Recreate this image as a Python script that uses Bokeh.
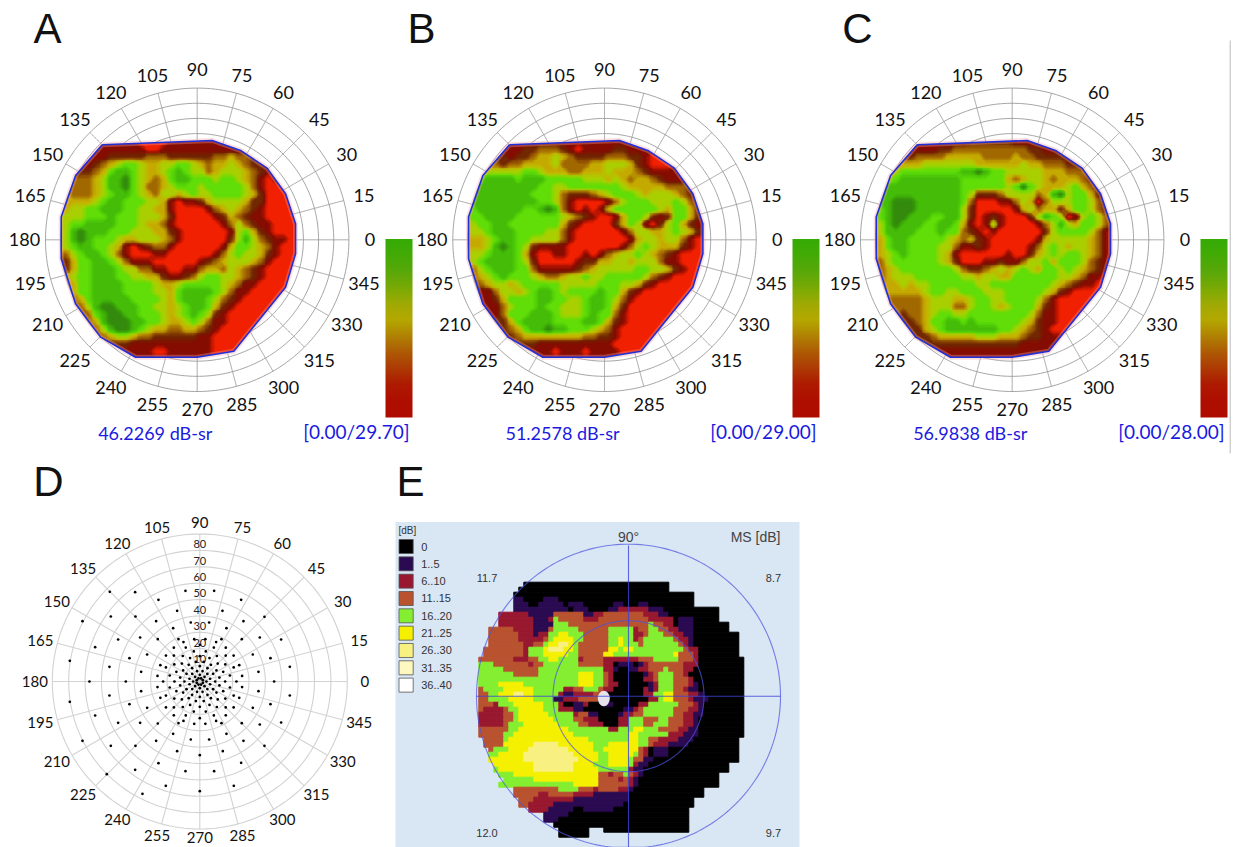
import numpy as np
from bokeh.plotting import figure
from bokeh.models import Range1d, LinearColorMapper
from bokeh.core.properties import value
from bokeh.embed import file_html
from bokeh.resources import INLINE

# ---- data ----
angle_ticks = list(range(0, 360, 15))
rings_abc = list(range(10, 101, 10))
rings_d = list(range(10, 91, 10))
ring_labels_d = list(range(10, 81, 10))

outline_ang = [135, 81.4, 64.1, 45.7, 27.5, 9.2, 351.9, 331.8, 288.2, 270, 242.3, 225.2, 207.7, 187.9, 170.5, 152.1]
outline_ecc = [88.6, 66.2, 65.5, 66, 65.7, 65.7, 65.5, 66.1, 77.3, 77.4, 87.4, 90.4, 90.6, 90.5, 90.9, 90.7]

titles = ["46.2269 dB-sr", "51.2578 dB-sr", "56.9838 dB-sr"]
ranges = ["[0.00/29.70]", "[0.00/29.00]", "[0.00/28.00]"]
panel_letters = ["A", "B", "C", "D", "E"]

# sensitivity level per cell: 0 bright red ... 8 dark green
heat_a = [
"11111111110000111111111111111111",
"11111111111001111111111111111111",
"11111122222333222222334332211111",
"11112345665445566543445432211111",
"11223467765445676553455543211111",
"33334577865434677666566543101111",
"33334577865334566656666653100011",
"43334567765435545655666654200001",
"44445677666554101124555542200001",
"45566777665544100001345432100000",
"55566676665554200000124321100000",
"56677776665443100000013532110000",
"57877766655544210000001564210000",
"57876665445554310000002575321100",
"56776654101233100000014665431000",
"35677653100011000000135655421000",
"24667765311100000012345554310000",
"24667776553311001134435432100000",
"45667776655442112356655432100000",
"44667777666654456666654311000000",
"44667777666655467777653110000000",
"33467777766665467776532100000000",
"33357887776655456776421000000000",
"33336788776665456765210000000000",
"33334788877665445653110000000000",
"33333578876544334432100000000000",
"33333345543322222211000000000000",
"22222222211111111111000000000000",
"11111111111100111111000000000000",
"11111111111111111111000000000000",
]
heat_b = [
"11111111111111111111111111111111",
"11111112233321011112211111111111",
"22222122344543222233322100011111",
"33332334444533334455542100011111",
"44555556654443344454443211111111",
"56777767776666655545434432111111",
"67777777766556666666544444333211",
"77777777666532223456665455543211",
"77777777766531000013566655565321",
"67777776678731010146666665466421",
"66777766666654321001466521266421",
"56677666666642100002465102564211",
"55677766665531000000135544565421",
"44567766555531000000014554553100",
"44578765211110000000135654442100",
"55677764100110010134556543210000",
"56777765200000122445545553110000",
"35677766311111234555556655421000",
"34567666543345565566666532100000",
"23455456666655555666554210000000",
"11135545677656666766421000000000",
"11124666677665567765310000000000",
"11113566676655567764200000000000",
"11113666777655567663100000000000",
"22222467777666677642100000000000",
"22222346778776665431000000000000",
"22222234444444433221000000000000",
"22222222211111111110000000000000",
"11111111111011101111000000000000",
"11111111111111111111000000000000",
]
heat_c = [
"11111111111122222211111111111111",
"11111111223333333333221111111111",
"22222333344444333343322221111111",
"33344455555554444445443332211111",
"44566666666778766555554443332111",
"55677777777666666434554344432111",
"67777777777666666568654445643211",
"77777777777652223555534785664211",
"77888777777630001135403555665310",
"67888777777520000014534424665320",
"67887776677520121000257650156532",
"57877766776410151000013575466532",
"57777666766321010000002566665310",
"46776666654342100000014555554310",
"46776666553112100000135654554310",
"45676666541000000100245656654310",
"35666666542000112113556466653210",
"34566666665322345456546656543210",
"34555666666554554466666655431100",
"34454556666665566666666543211000",
"34444456655666555666665421000000",
"33333345554456655666653100000000",
"33333345553356654566642100000000",
"33323345665566666666531100000000",
"22222346677676666665421100000000",
"22222245677777776654321000000000",
"22222223444445554443221111000000",
"22222222222222222221111110000000",
"11111111111111111111111000000000",
"11111111111111111111110000000000",
]
heat_stops = ["#f02000", "#860c00", "#702600", "#a06400", "#c8b000", "#a8d200", "#5ede08", "#44bc08", "#338a0c"]
bar_stops = ["#b00c00", "#ae0f00", "#ae1a00", "#ad3a04", "#ae5a04", "#b08204", "#b5a800", "#a0aa04", "#7aaa05", "#5aa80a", "#44aa06", "#35ab05"]

# panel D stimulus points: outer points read one by one, inner ones as rings
dot_x = [-270,-194,-124,-43,43,124,-352,-267,-193,-131,-68,-27,28,68,131,194,-80,80,-314,-245,-179,-126,65,126,180,244,-64,
         -390,-271,-211,-158,159,212,270,-331,-222,-176,176,223,-176,176,-390,-314,-352,-267,-245,-193,-179,-131,-126,-68,-124,
         -194,-279,-172,-102,-43,0,0,43,102,124,69,131,194,180,244,126,-80,-27,28,80,-64,65,-271,-211,-158,159,212,270]
dot_y = [269,268,245,272,272,245,181,195,195,181,212,177,177,212,181,194,160,160,103,126,132,127,127,127,132,126,127,
         62,44,70,81,81,70,44,0,0,29,29,0,-29,-29,-61,-102,-178,-193,-124,-193,-124,-178,-126,-209,-245,
         -265,-278,-337,-313,-269,-329,-221,-269,-313,-244,-209,-178,-193,-129,-123,-125,-157,-174,-174,-157,-125,-125,-42,-68,-79,-79,-68,-42]
inner_ring_r = [10, 20, 32, 46, 60, 76, 92, 110, 128]
inner_ring_n = [8, 8, 12, 12, 16, 16, 16, 16, 24]
inner_ring_phase = [22.5, 0, 15, 0, 11.25, 0, 11.25, 0, 7.5]

# panel E: map rows as "startcolumn+level" runs, '.' closes the row
e_levels = {"k": "#000000", "p": "#2a0a50", "r": "#98182f", "b": "#b8522f", "g": "#84ee30", "y": "#f5f000", "l": "#f8f080"}
e_rows = [
"9k 38.", "8k 38.", "7k 43.", "7p 9k 13p 16k 43.",
"7p 10k 12p 17k 18p 21k 27p 29k 32p 34k 43.",
"7p 18k 19p 22k 26p 28r 34p 37k 48.",
"4r 10p 15b 21p 23r 25b 33r 36p 38k 48.",
"4r 11p 14r 15g 16b 21r 24b 34r 36r 39k 40p 43k 48.",
"4r 11p 15g 18b 34g 35b 37r 39k 40p 43k 50.",
"2b 7r 11p 14b 15g 20b 26g 31r 32b 34g 36b 38r 40p 43k 50.",
"2b 8r 11p 12r 14g 16y 18g 21b 26g 31r 33b 34g 37b 39r 41p 43k 52.",
"2b 8r 12r 13b 14g 15y 19g 21b 26g 28y 29g 31r 32b 33g 39b 40r 42p 43k 52.",
"2b 8b 9r 11b 13g 14y 16l 18y 19g 20b 26g 28y 29g 32b 33g 40b 41r 42p 43k 52.",
"1b 9r 10g 13y 14l 17y 19g 20b 26y 28g 29y 31g 40g 41b 42r 44k 52.",
"1b 9r 10g 13y 18g 20b 25y 27g 39y 40b 43r 44k 52.",
"0b 7r 10b 12g 14y 16g 20r 21b 25r 32b 35g 40b 43r 44k 53.",
"0g 3b 10r 11b 13g 20b 25r 27k 28p 31k 32p 33r 34b 41r 44k 53.",
"0g 5b 12g 25r 27p 28k 30p 32r 34b 37g 38b 41r 43k 53.",
"0g 7b 12g 20y 23g 25b 26r 27k 33p 34r 35b 36g 39b 41r 42k 53.",
"0g 20y 23g 25b 26r 27k 33r 35b 36g 39b 42r 43k 53.",
"0g 4y 9g 20y 23g 25b 26r 28k 34p 35r 36g 39b 42r 43p 44k 53.",
"0b 1g 5y 11g 17r 19b 21g 24b 25r 27k 33r 34p 35r 36g 39b 41r 42p 44k 53.",
"0b 2g 4y 7l 9y 11g 16r 17p 19r 23b 25k 33r 35g 37y 39b 42r 44p 45k 53.",
"0b 2g 6y 11g 15p 17r 20b 23b 24p 25k 34r 36g 37y 39b 42r 43p 46k 53.",
"0b 3r 4g 7y 13g 16r 17k 19p 21r 22k 25p 27k 32r 34g 40b 43r 44p 45k 53.",
"0b 1r 5b 6g 8y 13g 16r 19p 21k 29p 31r 32b 33g 39b 42r 44p 45k 53.",
"0r 5b 7g 8y 14g 19r 20b 22p 24k 28p 29r 31b 33g 39b 41r 43p 45k 53.",
"0r 5b 7g 8y 15g 19b 21r 24k 28r 30g 33b 36g 38b 41r 43p 44k 53.",
"0r 5b 6g 9y 16g 20b 22r 25k 28r 30g 33b 35g 38b 41r 43p 44k 53.",
"0b 6g 8y 18g 26r 28g 31y 33g 36b 40r 42p 44k 53.",
"0b 5g 7y 19g 27g 30y 32g 38r 41p 44k 53.",
"1b 5g 6y 22g 30y 32g 34b 36r 40p 43k 52.",
"1b 5y 11l 16y 23g 26y 32g 34b 35r 38p 42k 52.",
"2b 3g 6y 10l 18y 23g 25y 32b 33r 34k 35p 38k 52.",
"2g 4y 9l 19y 24g 26y 31g 32b 33r 34k 35p 38k 52.",
"2y 9l 20y 24g 26y 30g 31b 33p 35k 52.",
"3y 11l 19y 23g 26y 30g 31r 32p 34k 50.",
"3g 4y 11l 19y 24g 29g 30r 31p 33k 50.",
"4g 7y 24b 26r 27b 29g 30b 31r 32p 33k 48.",
"5g 11y 24b 28r 29b 30r 31p 32k 48.",
"4g 16g 19y 24b 30r 31p 32k 48.",
"7b 12b 16g 20b 23r 24b 28r 30p 31k 45.",
"7b 12r 14b 19r 23p 30k 45.",
"8b 11r 19p 30k 43.",
"8b 10r 15p 29k 43.",
"10r 14p 19k 21p 27k 42.",
"13p 18k 42.", "13p 16k 42.", "15k 42.", "16k 22. 25k 42.", "16k 22.",
]
e_legend_labels = ["0", "1..5", "6..10", "11..15", "16..20", "21..25", "26..30", "31..35", "36..40"]
e_legend_colors = ["#000000", "#2a0a50", "#98182f", "#b8522f", "#84ee30", "#f5f000", "#f8f080", "#fdf8c0", "#ffffff"]
e_corners = ["11.7", "8.7", "12.0", "9.7"]

# ---- layout ----
H = 847
def Y(v):
    return H - np.asarray(v, dtype=float)

p = figure(width=1233, height=847, x_range=Range1d(0, 1233), y_range=Range1d(0, 847),
           output_backend="svg", toolbar_location=None, min_border=0)
p.axis.visible = False
p.grid.visible = False
p.outline_line_color = None
p.background_fill_color = "white"
p.border_fill_color = "white"

SANS = value("Liberation Sans")
LABEL = value("Lato")

def label(x, y, s, size, color="#111111", font=LABEL, align="center", baseline="middle"):
    p.text([x], [float(Y(y))], text=[s], text_font=font, text_font_size=value(f"{size}px"),
           text_color=color, text_align=align, text_baseline=baseline)

def polar(cx, cy, s, ang, ecc):
    a = np.radians(np.asarray(ang, dtype=float))
    e = np.asarray(ecc, dtype=float)
    return cx + s * e * np.cos(a), Y(cy) + s * e * np.sin(a)

def inside(px, py, qx, qy):
    c = False
    n = len(qx)
    j = n - 1
    for i in range(n):
        if (qy[i] > py) != (qy[j] > py):
            if px < (qx[j] - qx[i]) * (py - qy[i]) / (qy[j] - qy[i]) + qx[i]:
                c = not c
        j = i
    return c

def ramp(stops, n):
    rgb = np.array([[int(h[i:i + 2], 16) for i in (1, 3, 5)] for h in stops], dtype=float)
    t = np.linspace(0, len(stops) - 1, n)
    ch = [np.interp(t, np.arange(len(stops)), rgb[:, k]) for k in range(3)]
    return ["#%02x%02x%02x" % (int(a), int(b), int(c)) for a, b, c in zip(*ch)]

N_BANDS = 48
heat_colors = ramp(heat_stops, N_BANDS)
heat_levels = list(np.linspace(-0.01, 8.01, N_BANDS + 1))
heat_mapper = LinearColorMapper(palette=ramp(heat_stops, 64), low=0, high=8)
bar_mapper = LinearColorMapper(palette=ramp(bar_stops, 178), low=0, high=1)

S_ABC = 15.17 / 10
R_ABC = 151.7
CELL = 7.5
MASK = 146.0
centers = [(196.7, 239.3), (604.0, 239.3), (1011.7, 239.3)]
bars_x = [385, 792, 1200]

for (cx, cy), grid, tt, rg, bx in zip(centers, [heat_a, heat_b, heat_c], titles, ranges, bars_x):
    ox, oy = polar(cx, cy, S_ABC, outline_ang, outline_ecc)
    nrow, ncol = len(grid), 32
    arr = np.zeros((nrow, ncol))
    x0, top = cx - 135.0, cy - 101.7
    for r, row in enumerate(grid):
        row = row.ljust(ncol, row[-1])
        for c in range(ncol):
            arr[nrow - 1 - r, c] = int(row[c])
    # same cells repeated at the rim so that the contour reaches the outline
    padded = np.pad(arr, 1, mode="edge")
    xs = np.r_[x0 - CELL, x0 + CELL * (np.arange(ncol) + .5), x0 + CELL * ncol + CELL]
    ybot = float(Y(top + CELL * nrow))
    ys = np.r_[ybot - CELL, ybot + CELL * (np.arange(nrow) + .5), ybot + CELL * nrow + CELL]
    p.image(image=[arr], x=x0, y=ybot, dw=CELL * ncol, dh=CELL * nrow, color_mapper=heat_mapper)
    p.contour(xs, ys, padded, heat_levels, fill_color=heat_colors, line_color=None)
    # white surround with the outline as its hole
    my0 = float(Y(cy))
    mx = [cx - MASK, cx + MASK, cx + MASK, cx - MASK]
    my = [my0 - MASK, my0 - MASK, my0 + MASK, my0 + MASK]
    p.multi_polygons(xs=[[[mx, list(ox)]]], ys=[[[my, list(oy)]]], fill_color="white", line_color=None)
    # grid, only outside the outline
    for e in rings_abc:
        th = np.arange(0, 361, 1.0)
        gx, gy = polar(cx, cy, S_ABC, th, np.full(th.shape, float(e)))
        for i in range(len(gx)):
            if inside(gx[i], gy[i], ox, oy):
                gx[i] = np.nan
                gy[i] = np.nan
        p.line(gx, gy, line_color="#9a9a9a", line_width=0.9)
    for a in angle_ticks:
        es = np.arange(0, 100.5, 0.5)
        gx, gy = polar(cx, cy, S_ABC, np.full(es.shape, float(a)), es)
        for i in range(len(gx)):
            if inside(gx[i], gy[i], ox, oy):
                gx[i] = np.nan
                gy[i] = np.nan
        p.line(gx, gy, line_color="#9a9a9a", line_width=0.9)
        rad = np.radians(a)
        p.text([cx + 172.7 * np.cos(rad)], [my0 + 170.0 * np.sin(rad)], text=[str(a)], text_font=LABEL,
               text_font_size=value("18px"), text_color="#111111", text_align="center", text_baseline="middle")
    clx, cly = list(ox) + [ox[0]], list(oy) + [oy[0]]
    p.line(clx, cly, line_color="#f6a0a0", line_alpha=0.35, line_width=5)
    p.line(clx, cly, line_color="#2030d8", line_width=1.6)
    # colour bar
    bar = np.linspace(0, 1, 178).reshape(-1, 1)
    p.image(image=[bar], x=bx, y=float(Y(417)), dw=27, dh=178.5, color_mapper=bar_mapper)
    label(cx - 42, 432, tt, 18, color="#1a1ae0")
    label(bx + 24, 431, rg, 19, color="#1a1ae0", align="right")

p.segment([1229.7], [float(Y(40))], [1229.7], [float(Y(453))], line_color="#bbbbbb", line_width=1)

for s, x, y in zip(panel_letters, [47, 421, 857, 48, 410], [28, 28, 28, 481, 481]):
    label(x, y, s, 42, font=SANS)

# ---- panel D ----
dcx, dcy, S_D = 199.3, 681.0, 147.5 / 90
dy0 = float(Y(dcy))
for e in rings_d:
    th = np.arange(0, 361, 2.0)
    gx, gy = polar(dcx, dcy, S_D, th, np.full(th.shape, float(e)))
    p.line(gx, gy, line_color="#d2d2d2", line_width=1.1)
for a in angle_ticks:
    gx, gy = polar(dcx, dcy, S_D, [a, a], [0, 90])
    p.line(gx, gy, line_color="#d2d2d2", line_width=1.1)
    rad = np.radians(a)
    ry = 156.0 if a == 270 else 159.5
    p.text([dcx + 165.0 * np.cos(rad)], [dy0 + ry * np.sin(rad)], text=[str(a)], text_font=LABEL,
           text_font_size=value("15px"), text_color="#111111", text_align="center", text_baseline="middle")
for k in ring_labels_d:
    p.text([dcx], [dy0 + S_D * k + 6.2], text=[str(k)], text_font=LABEL, text_font_size=value("11px"),
           text_color="#222222", text_align="center", text_baseline="middle")
Z = 1.0 / 3.0
dx = [dcx + v * Z for v in dot_x]
dy = [dy0 + v * Z for v in dot_y]
for r, n, ph in zip(inner_ring_r, inner_ring_n, inner_ring_phase):
    for i in range(n):
        a = np.radians(ph + 360.0 * i / n)
        dx.append(dcx + r * Z * np.cos(a))
        dy.append(dy0 + r * Z * np.sin(a))
p.scatter(dx, dy, size=2.7, color="#000000", line_color=None)

# ---- panel E ----
p.quad(left=[395], right=[799], top=[float(Y(521.5))], bottom=[0], fill_color="#d9e6f3", line_color=None)
ecx, ecy = 628.0, 695.7
ex0, ey0, ec = 478.3, 581.7, 5.0
L, R, T, B, C = [], [], [], [], []
for r, row in enumerate(e_rows):
    toks = row.split()
    for a, b in zip(toks[:-1], toks[1:]):
        if a.endswith("."):
            continue
        c0, lev = int(a[:-1]), a[-1]
        c1 = int(b[:-1])
        L.append(ex0 + c0 * ec); R.append(ex0 + c1 * ec)
        T.append(float(Y(ey0 + r * ec))); B.append(float(Y(ey0 + (r + 1) * ec)))
        C.append(e_levels[lev])
p.quad(left=L, right=R, top=T, bottom=B, fill_color=C, line_color=C, line_width=1.0)
p.ellipse([603.3], [float(Y(698))], width=12, height=15.5, fill_color="#e6e2ea", line_color=None)
for rad in [152.0, 75.5]:
    th = np.arange(0, 361, 1.5)
    gx, gy = polar(ecx, ecy, 1.0, th, np.full(th.shape, rad))
    keep = gy > 0
    p.line(gx[keep], gy[keep], line_color="#4c54e0", line_alpha=0.72, line_width=1.1)
p.segment([476, ecx], [float(Y(ecy)), float(Y(545))], [780, ecx], [float(Y(ecy)), 0],
          line_color="#3c44dc", line_alpha=0.8, line_width=1.1)
for i, (t, c) in enumerate(zip(e_legend_labels, e_legend_colors)):
    yc = 546 + 17.33 * i
    p.quad(left=[398.5], right=[412.7], top=[float(Y(yc - 7))], bottom=[float(Y(yc + 7))], fill_color=c, line_color="#555555", line_width=0.8)
    label(420.7, yc, t, 11, color="#333333", font=SANS, align="left")
label(398, 530, "[dB]", 10, color="#333333", font=SANS, align="left")
label(ecx, 536, "90°", 14, color="#444444", font=SANS)
label(780, 536, "MS [dB]", 14, color="#444444", font=SANS, align="right")
for s, x, y in zip(e_corners, [486.5, 773, 486.5, 773], [577, 577, 832, 832]):
    label(x, y, s, 11, color="#333333", font=SANS)

open("out.html", "w").write(file_html(p, INLINE))
